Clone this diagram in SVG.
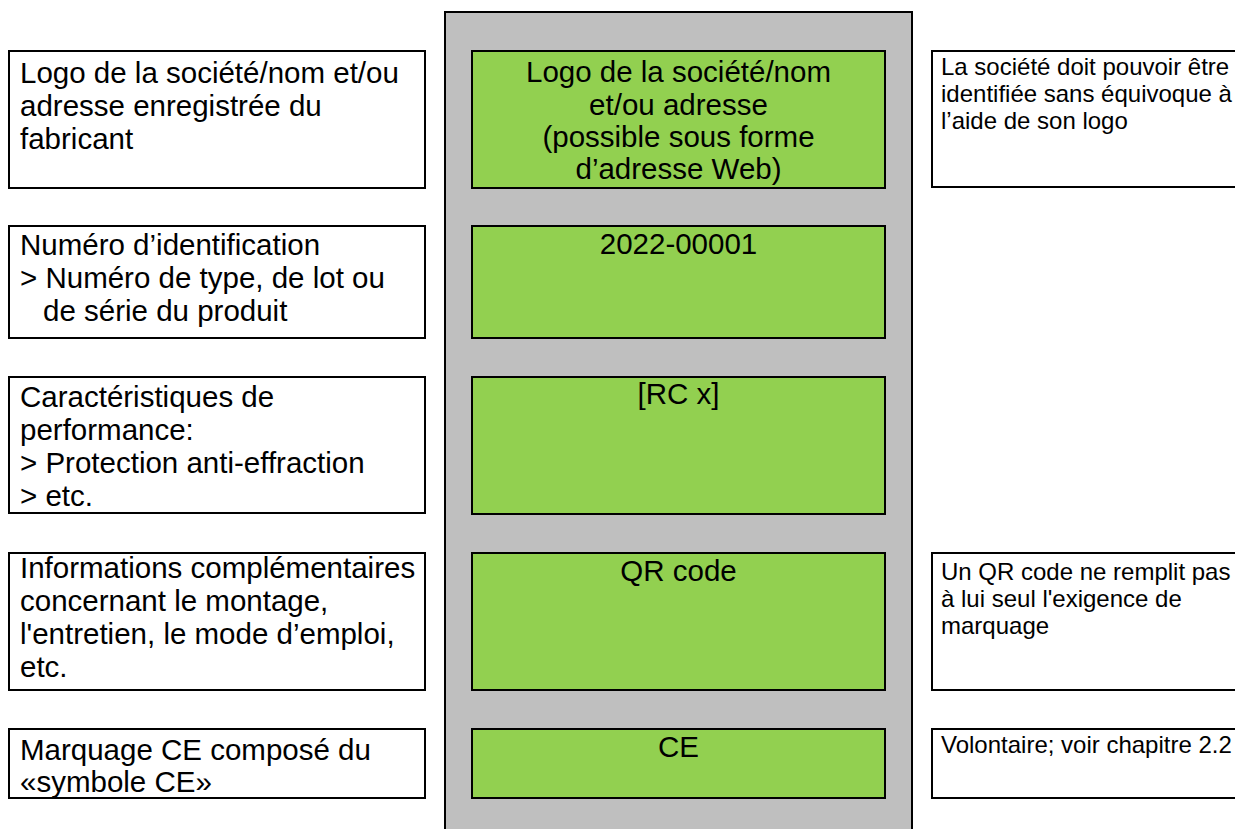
<svg xmlns="http://www.w3.org/2000/svg" width="1235" height="829" viewBox="0 0 1235 829">
<style>
.box{fill:#fff;stroke:#000;stroke-width:2}
.grn{fill:#92D050;stroke:#000;stroke-width:2}
.pnl{fill:#BFBFBF;stroke:#000;stroke-width:2}
.t{font-family:"Liberation Sans",Arial,sans-serif;font-size:29.5px;fill:#000}
.c{text-anchor:middle}
.n{font-family:"Liberation Sans",Arial,sans-serif;font-size:24px;fill:#000}
</style>
<rect width="1235" height="829" fill="#fff"/>
<g id="panel"><rect class="pnl" x="445" y="12" width="467" height="830"/></g>

<g id="left1"><rect class="box" x="9" y="51" width="416" height="137"/>
<text class="t" x="20" y="83">Logo de la société/nom et/ou</text>
<text class="t" x="20" y="116">adresse enregistrée du</text>
<text class="t" x="20" y="149">fabricant</text></g>
<g id="left2"><rect class="box" x="9" y="226" width="416" height="112"/>
<text class="t" x="20" y="255">Numéro d’identification</text>
<text class="t" x="20" y="288">&gt; Numéro de type, de lot ou</text>
<text class="t" x="43" y="321">de série du produit</text></g>
<g id="left3"><rect class="box" x="9" y="377" width="416" height="136"/>
<text class="t" x="20" y="407">Caractéristiques de</text>
<text class="t" x="20" y="440">performance:</text>
<text class="t" x="20" y="473">&gt; Protection anti-effraction</text>
<text class="t" x="20" y="506">&gt; etc.</text></g>
<g id="left4"><rect class="box" x="9" y="553" width="416" height="137"/>
<text class="t" x="20" y="578">Informations complémentaires</text>
<text class="t" x="20" y="611">concernant le montage,</text>
<text class="t" x="20" y="644">l'entretien, le mode d’emploi,</text>
<text class="t" x="20" y="677">etc.</text></g>
<g id="left5"><rect class="box" x="9" y="729" width="416" height="69"/>
<text class="t" x="20" y="760">Marquage CE composé du</text>
<text class="t" x="20" y="792">«symbole CE»</text></g>

<g id="green1"><rect class="grn" x="472" y="51" width="413" height="137"/>
<text class="t c" x="678.5" y="82">Logo de la société/nom</text>
<text class="t c" x="678.5" y="115">et/ou adresse</text>
<text class="t c" x="678.5" y="147">(possible sous forme</text>
<text class="t c" x="678.5" y="179">d’adresse Web)</text></g>
<g id="green2"><rect class="grn" x="472" y="226" width="413" height="112"/>
<text class="t c" x="678.5" y="254">2022-00001</text></g>
<g id="green3"><rect class="grn" x="472" y="377" width="413" height="137"/>
<text class="t c" x="678.5" y="404">[RC x]</text></g>
<g id="green4"><rect class="grn" x="472" y="553" width="413" height="137"/>
<text class="t c" x="678.5" y="581">QR code</text></g>
<g id="green5"><rect class="grn" x="472" y="729" width="413" height="69"/>
<text class="t c" x="678.5" y="757">CE</text></g>

<g id="note1"><rect class="box" x="932" y="51" width="310" height="136"/>
<text class="n" x="941" y="75">La société doit pouvoir être</text>
<text class="n" x="941" y="102">identifiée sans équivoque à</text>
<text class="n" x="941" y="129">l’aide de son logo</text></g>
<g id="note2"><rect class="box" x="932" y="553" width="310" height="137"/>
<text class="n" x="941" y="580">Un QR code ne remplit pas</text>
<text class="n" x="941" y="607">à lui seul l'exigence de</text>
<text class="n" x="941" y="634">marquage</text></g>
<g id="note3"><rect class="box" x="932" y="729" width="310" height="69"/>
<text class="n" x="941" y="753">Volontaire; voir chapitre 2.2</text></g>
<g id="connectors"></g>
</svg>
